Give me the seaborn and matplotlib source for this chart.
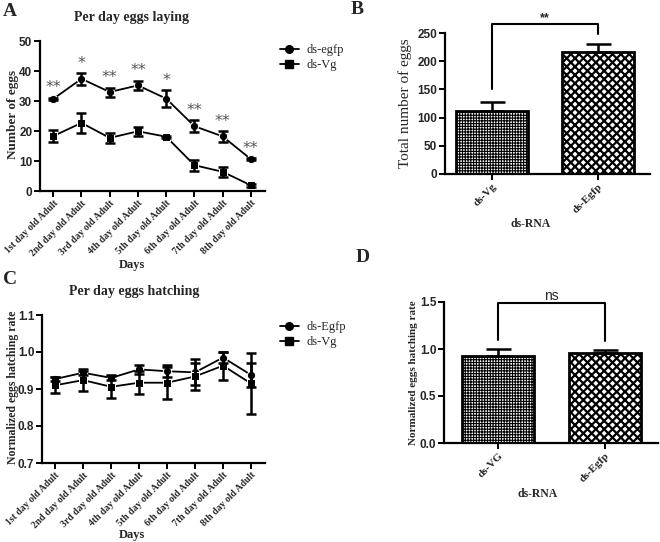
import numpy as np
import pandas as pd
import matplotlib
matplotlib.use("Agg")
import matplotlib.pyplot as plt
from matplotlib.lines import Line2D
import seaborn as sns

# ---- data ----
days = ["1st day old Adult", "2nd day old Adult", "3rd day old Adult", "4th day old Adult",
        "5th day old Adult", "6th day old Adult", "7th day old Adult", "8th day old Adult"]

# A: eggs laid per day
egfp_laying = [30.7, 37.4, 33.0, 35.2, 30.8, 21.6, 18.2, 10.6]
egfp_laying_sem = [0.4, 1.9, 1.5, 1.5, 2.9, 2.0, 1.8, 0.4]
vg_laying = [18.3, 22.7, 17.7, 19.9, 18.1, 8.6, 6.4, 1.9]
vg_laying_sem = [2.0, 3.3, 1.8, 1.5, 0.4, 1.9, 1.7, 0.5]
laying_stars = ["**", "*", "**", "**", "*", "**", "**", "**"]

# B: total eggs
total_groups = ["ds-Vg", "ds-Egfp"]
total_eggs = [112, 216]
total_eggs_sem = [16.5, 14.7]

# C: hatching rate per day
egfp_hatch = [0.927, 0.944, 0.930, 0.953, 0.948, 0.945, 0.985, 0.938]
egfp_hatch_sem = [0.006, 0.006, 0.005, 0.012, 0.016, 0.035, 0.015, 0.032]
vg_hatch = [0.910, 0.924, 0.906, 0.917, 0.917, 0.934, 0.963, 0.915]
vg_hatch_sem = [0.022, 0.029, 0.031, 0.031, 0.043, 0.036, 0.038, 0.083]

# D: overall hatching rate
rate_groups = ["ds-VG", "ds-Egfp"]
rate_mean = [0.928, 0.960]
rate_sem = [0.067, 0.028]

sns.set_style("ticks")
SERIF = "Liberation Serif"
SANS = "Liberation Sans"

W, H = 660, 542
fig = plt.figure(figsize=(W / 100, H / 100), dpi=100)


def panel(left, top, right, bottom):
    return fig.add_axes([left / W, 1 - bottom / H, (right - left) / W, (bottom - top) / H])


def style_axes(ax, xsize=7):
    sns.despine(ax=ax)
    for s in ["left", "bottom"]:
        ax.spines[s].set_linewidth(1.6)
        ax.spines[s].set_color("black")
    ax.tick_params(width=1.4, length=4, color="black", pad=1.5)
    for t in ax.get_xticklabels():
        t.set_fontfamily(SERIF)
        t.set_fontweight("bold")
        t.set_fontsize(xsize)
        t.set_rotation(45)
        t.set_ha("right")
        t.set_rotation_mode("anchor")


def line_panel(ax, names, series, sems, ylim, yticks, legend_xy):
    frames = []
    for name, vals in zip(names, series):
        frames.append(pd.DataFrame({"day": days, "value": vals, "group": name}))
    df = pd.concat(frames)
    sns.lineplot(data=df, x="day", y="value", hue="group", style="group",
                 palette=["black", "black"], markers=["o", "s"], dashes=False,
                 markersize=6, linewidth=1.3, legend=False, sort=False, ax=ax)
    x = np.arange(len(days))
    for vals, err in zip(series, sems):
        ax.errorbar(x, vals, yerr=err, fmt="none", ecolor="black",
                    elinewidth=1.8, capsize=3.5, capthick=1.8, zorder=3)
    ax.set_xlim(-0.47, 7.5)
    ax.set_ylim(*ylim)
    ax.set_yticks(yticks)
    ax.set_xlabel("")
    ax.set_ylabel("")
    handles = [Line2D([0], [0], color="black", marker=m, markersize=5.5, lw=1.3)
               for m in ["o", "s"]]
    fig.legend(handles, names, loc="upper left", frameon=False,
               bbox_to_anchor=(legend_xy[0] / W, 1 - legend_xy[1] / H),
               prop={"family": SERIF, "size": 9}, handlelength=1.5,
               handletextpad=0.6, labelspacing=0.25, borderpad=0, borderaxespad=0)
    style_axes(ax)


def bar_panel(ax, groups, vals, sems, ylim, yticks):
    sns.barplot(x=groups, y=vals, color="white", edgecolor="black", linewidth=2,
                width=0.68, errorbar=None, ax=ax)
    hatches = [("++++++", 0.8), ("xxxx", 1.6)]
    for patch, (h, lw) in zip(ax.patches, hatches):
        patch.set_hatch(h)
        if hasattr(patch, "set_hatch_linewidth"):
            patch.set_hatch_linewidth(lw)
    ax.errorbar(np.arange(len(groups)), vals, yerr=[np.zeros(len(vals)), sems],
                fmt="none", ecolor="black", elinewidth=1.8, capsize=9, capthick=1.8)
    ax.set_ylim(*ylim)
    ax.set_yticks(yticks)
    style_axes(ax, xsize=8)


def bracket(ax, y_left, y_top, y_right, label, size, family, weight):
    ax.plot([0, 0, 1, 1], [y_left, y_top, y_top, y_right], color="black", lw=1.5,
            clip_on=False)
    ax.text(0.5, y_top, label, ha="center", va="bottom", fontsize=size,
            family=family, fontweight=weight, clip_on=False)


# A
axA = panel(40, 41, 265, 191)
line_panel(axA, ["ds-egfp", "ds-Vg"], [egfp_laying, vg_laying],
           [egfp_laying_sem, vg_laying_sem], (0, 50), [0, 10, 20, 30, 40, 50], (280, 44))
for i, s in enumerate(laying_stars):
    axA.text(i, egfp_laying[i] + egfp_laying_sem[i] + 0.8, s, ha="center", va="bottom",
             fontsize=11.5, color="#555555", family="DejaVu Sans")

# B
axB = panel(445, 33, 650, 174)
bar_panel(axB, total_groups, total_eggs, total_eggs_sem, (0, 250), [0, 50, 100, 150, 200, 250])
axB.set_xlim(-0.44, 1.49)
bracket(axB, 150, 266, 249, "**", 9, SANS, "bold")

# C
axC = panel(42, 315, 265, 463)
line_panel(axC, ["ds-Egfp", "ds-Vg"], [egfp_hatch, vg_hatch],
           [egfp_hatch_sem, vg_hatch_sem], (0.7, 1.1), [0.7, 0.8, 0.9, 1.0, 1.1], (280, 321))
axC.yaxis.set_major_formatter(matplotlib.ticker.FormatStrFormatter("%.1f"))

# D
axD = panel(444, 302, 658, 443)
bar_panel(axD, rate_groups, rate_mean, rate_sem, (0, 1.5), [0.0, 0.5, 1.0, 1.5])
axD.set_xlim(-0.51, 1.5)
axD.yaxis.set_major_formatter(matplotlib.ticker.FormatStrFormatter("%.1f"))
bracket(axD, 1.094, 1.489, 1.087, "ns", 10, SANS, "normal")

for ax in [axA, axB, axC, axD]:
    for t in ax.get_yticklabels():
        t.set_fontfamily(SANS)
        t.set_fontweight("bold")
        t.set_fontsize(8.5)


def ftext(x, y, s, **kw):
    fig.text(x / W, 1 - y / H, s, ha="center", va="center", family=SERIF, **kw)


# titles, axis labels, panel letters
ftext(132, 17, "Per day eggs laying", fontsize=10, fontweight="bold")
ftext(134, 292, "Per day eggs hatching", fontsize=10, fontweight="bold")
ftext(132, 265, "Days", fontsize=9, fontweight="bold")
ftext(132, 535, "Days", fontsize=9, fontweight="bold")
ftext(531, 224, "ds-RNA", fontsize=8.5, fontweight="bold")
ftext(538, 494, "ds-RNA", fontsize=8.5, fontweight="bold")
ftext(13, 114, "Number of eggs", fontsize=9.5, fontweight="bold", rotation=90)
ftext(405, 103, "Total number of eggs", fontsize=11, rotation=90)
ftext(13, 387, "Normalized eggs hatching rate", fontsize=8.5, fontweight="bold", rotation=90)
ftext(413, 373, "Normalized eggs hatching rate", fontsize=8, fontweight="bold", rotation=90)
ftext(10, 11, "A", fontsize=14, fontweight="bold")
ftext(357, 10, "B", fontsize=14, fontweight="bold")
ftext(10, 280, "C", fontsize=14, fontweight="bold")
ftext(363, 257, "D", fontsize=14, fontweight="bold")

fig.savefig("out.png", dpi=100, facecolor="white")
